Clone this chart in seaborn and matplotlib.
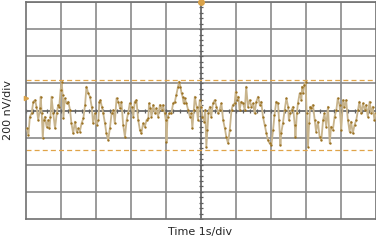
import numpy as np
import pandas as pd
import matplotlib
matplotlib.use("Agg")
import matplotlib.pyplot as plt
import seaborn as sns

# Time (s) and noise voltage (nV)
time_s = [
    0.02, 0.07, 0.11, 0.16, 0.21, 0.26, 0.30, 0.35, 0.40, 0.42, 0.45, 0.48, 0.51, 0.54, 0.59, 0.64,
    0.67, 0.70, 0.73, 0.78, 0.83, 0.88, 0.92, 0.95, 0.99, 1.02, 1.05, 1.07, 1.11, 1.16, 1.21, 1.26,
    1.30, 1.35, 1.40, 1.45, 1.50, 1.54, 1.59, 1.64, 1.69, 1.73, 1.78, 1.83, 1.88, 1.92, 1.97, 2.02,
    2.07, 2.10, 2.13, 2.17, 2.21, 2.26, 2.30, 2.35, 2.40, 2.45, 2.50, 2.54, 2.59, 2.64, 2.69, 2.73,
    2.78, 2.83, 2.88, 2.92, 2.97, 3.02, 3.07, 3.11, 3.16, 3.21,
    3.26, 3.30, 3.35, 3.40, 3.45, 3.50, 3.52, 3.56, 3.59, 3.64, 3.69, 3.73, 3.78, 3.83, 3.88, 3.92,
    3.97, 4.00, 4.02, 4.05, 4.10, 4.16, 4.21, 4.26, 4.30, 4.35, 4.38, 4.42, 4.45, 4.48, 4.51, 4.54,
    4.59, 4.64, 4.69, 4.73, 4.76, 4.80, 4.83, 4.88, 4.92, 4.97, 5.02, 5.05, 5.10, 5.13, 5.16, 5.19,
    5.22, 5.26, 5.30, 5.35, 5.40, 5.45, 5.50, 5.54, 5.59, 5.64, 5.69, 5.73, 5.78, 5.83, 5.88, 5.92,
    5.97, 6.00, 6.04, 6.08, 6.11, 6.16, 6.21, 6.26, 6.30, 6.35, 6.40, 6.45, 6.50, 6.54, 6.59, 6.64,
    6.69, 6.73, 6.78, 6.83, 6.88, 6.92, 6.97, 7.02, 7.07, 7.11, 7.16, 7.21, 7.24, 7.28, 7.30, 7.35,
    7.40, 7.45, 7.50, 7.52, 7.56, 7.60, 7.64, 7.69, 7.71, 7.75, 7.78, 7.83, 7.88, 7.90, 7.93, 7.96,
    8.00, 8.03, 8.07, 8.10, 8.13, 8.16, 8.21, 8.26, 8.30, 8.35, 8.40, 8.45, 8.50, 8.54, 8.59, 8.64,
    8.69, 8.73, 8.78, 8.83, 8.88, 8.92, 8.97, 9.02, 9.07, 9.11, 9.16, 9.21, 9.26, 9.30, 9.35, 9.40,
    9.45, 9.50, 9.54, 9.59, 9.64, 9.69, 9.73, 9.78, 9.83, 9.88, 9.92, 9.97, 10.00,
]
noise_nv = [
    -132, -181, -46, -21, 65, 77, 28, -70, 16, 102, -21, -205, -70, -46, -119, -70,
    -132, -46, 102, -21, -132, -21, 41, 28, 151, 213, 114, -58, 90, 53, 65, 4,
    -95, -169, -82, -156, -132, -156, -95, -58, 41, 176, 127, 102, 28, -95, -21, -107,
    -70, 65, 77, 28, -21, -95, -169, -218, -132, -21, 4, -95, 90, 65, 16, 65,
    -107, -193, -70, -21, 53, 28, -46, 65, 77, -70,
    -144, -169, -95, -119, -70, -58, 53, 16, -46, 41, -21, 16, -46, 41, 4, 41,
    -21, -70, -230, -46, -21, -21, 53, 65, 114, 176, 213, 176, 127, 102, 53, 90,
    53, 4, -46, -21, -132, 4, 102, 28, -70, 77, 28, -46, -82, 4, -267, -144,
    -21, 28, -46, 53, 77, 28, -21, 4, 53, -70, -132, -193, -242, -144, 4, 41,
    53, 139, 77, 102, 4, 65, 53, 4, 176, 28, 77, 28, 53, -21, 65, 102,
    41, 65, -46, -107, -169, -218, -242, -255, -144, -33, 65, 53, -70, -255, -169, -95,
    4, 90, 28, -70, -21, 4, 28, -107, -193, -21, 53, 127, 77, 176, 127, 188,
    213, -21, -267, -95, 28, 16, 41, -70, -156, -82, -193, -218, -70, -21, -119, 28,
    -242, -119, -144, -46, 4, 90, 41, -144, 77, 28, 77, -70, -156, -82, -169, -107,
    -70, 4, 65, -21, 53, 4, 41, -46, 65, -21, 28, -70, -21,
]
cursor_levels_nv = [223, -294]
x_label = "Time 1s/div"
y_label = "200 nV/div"

df = pd.DataFrame({"t": time_s, "v": noise_nv})

sns.set_style("white")
plt.rcParams["font.family"] = ["DejaVu Sans"]

fig = plt.figure(figsize=(3.76, 2.40), dpi=100)
ax = fig.add_axes([26 / 376, 1 - 219 / 240, 349.5 / 376, 217 / 240])

ax.set_xlim(0, 10)
ax.set_ylim(-800, 800)

grid_c = "#8a8a8a"
for xv in np.arange(1, 10):
    ax.axvline(xv, color=grid_c, lw=1.2, zorder=1)
for yv in np.arange(-600, 801, 200):
    ax.axhline(yv, color=grid_c, lw=1.2, zorder=1)
ax.axhline(0, color="#707070", lw=1.2, zorder=1)
ax.axvline(5, color="#707070", lw=1.2, zorder=1)

# minor ticks on center axes
minor_y = np.arange(-800, 801, 40)
ax.plot([5] * len(minor_y), minor_y, ls="none", marker="_", ms=3.5, mew=0.9, color="#606060", zorder=2)
minor_x = np.arange(0, 10.01, 0.2)
ax.plot(minor_x, [0] * len(minor_x), ls="none", marker="|", ms=3.5, mew=0.9, color="#606060", zorder=2)

for lvl in cursor_levels_nv:
    ax.axhline(lvl, color="#e0a448", lw=0.9, ls=(0, (4, 2.5)), zorder=2)

sns.lineplot(data=df, x="t", y="v", ax=ax, color="#c8b48c", lw=1.3, zorder=3, legend=False)
ax.plot(df["t"], df["v"], ls="none", marker="o", ms=1.7, color="#9c7222", mew=0, zorder=4)

# markers (trigger / ground)
ax.plot([5], [800], marker="o", ms=4, color="#d9a24a", clip_on=False, zorder=5)
ax.plot([0], [95], marker=">", ms=3, color="#d9a24a", clip_on=False, zorder=5)

for s in ["left", "bottom", "top", "right"]:
    ax.spines[s].set_visible(True)
    ax.spines[s].set_color("#707070")
    ax.spines[s].set_linewidth(1.2)
ax.set_xticks([])
ax.set_yticks([])
ax.set_xlabel("")
ax.set_ylabel("")

fig.text(200 / 376, 1 - 232 / 240, x_label, ha="center", va="center", fontsize=8)
fig.text(8 / 376, 1 - 110 / 240, y_label, ha="center", va="center", rotation=90, fontsize=8)

fig.savefig("out.png", dpi=100)
